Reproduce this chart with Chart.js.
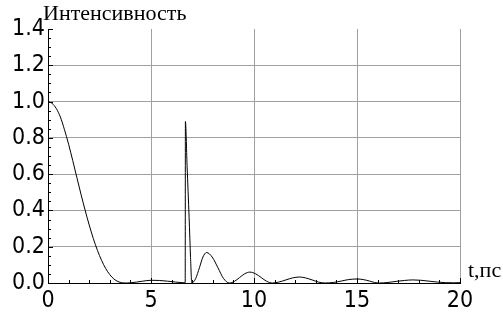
<!DOCTYPE html>
<html>
<head>
<meta charset="utf-8">
<script src="https://cdn.jsdelivr.net/npm/chart.js@4/dist/chart.umd.min.js"></script>
<style>
  html, body { margin: 0; padding: 0; background: #fff; }
  #wrap { width: 503px; height: 320px; }
</style>
</head>
<body>
<div id="wrap"><canvas id="c" width="503" height="320"></canvas></div>
<script>
// Time axis, picoseconds
const timePs = [
  0, 0.2, 0.4, 0.6, 0.8, 1.0, 1.2, 1.4, 1.6, 1.8, 2.0, 2.2, 2.4, 2.6, 2.8, 3.0, 3.2, 3.4, 3.6, 3.8,
  4.0, 4.3, 4.6, 5.0, 5.4, 5.8, 6.2, 6.5, 6.66,
  6.67, 6.75, 6.85, 6.92, 6.98,
  7.17, 7.35, 7.52, 7.7, 7.97, 8.25, 8.52, 8.8,
  9.05, 9.3, 9.55, 9.8, 10.07, 10.35, 10.62, 10.9,
  11.2, 11.55, 11.87, 12.2, 12.5, 12.82, 13.13, 13.45,
  13.85, 14.25, 14.6, 15.0, 15.3, 15.6, 15.85, 16.1,
  16.5, 16.9, 17.3, 17.7, 18.1, 18.5, 18.9, 19.3, 19.7, 20
];
// Intensity at each time
const intensity = [
  1.000, 0.990, 0.962, 0.915, 0.845, 0.765, 0.675, 0.582, 0.490, 0.402, 0.320, 0.245, 0.180, 0.125, 0.080, 0.046, 0.022, 0.008, 0.001, 0.000,
  0.001, 0.005, 0.010, 0.015, 0.014, 0.010, 0.005, 0.002, 0.001,
  0.890, 0.650, 0.360, 0.140, 0.000,
  0.025, 0.084, 0.143, 0.168, 0.143, 0.084, 0.025, 0.000,
  0.009, 0.030, 0.051, 0.060, 0.051, 0.030, 0.009, 0.000,
  0.005, 0.017, 0.028, 0.033, 0.028, 0.017, 0.005, 0.000,
  0.003, 0.011, 0.019, 0.022, 0.019, 0.011, 0.003, 0.000,
  0.003, 0.009, 0.014, 0.017, 0.015, 0.010, 0.005, 0.002, 0.001, 0.002
];
const xTicks = [0, 5, 10, 15, 20];
const yTicks = [0, 0.2, 0.4, 0.6, 0.8, 1.0, 1.2, 1.4];
const xMinorStep = 1;
const yMinorStep = 0.05;
const yTitle = 'Интенсивность';
const xTitle = 't,пс';

const tickFont = { family: "'DejaVu Sans Condensed', 'DejaVu Sans', sans-serif", size: 23 };
const gridColor = '#a0a0a0';

const points = timePs.map((t, i) => ({ x: t, y: intensity[i] }));

// Inward tick marks plus axis captions
const axisDecor = {
  id: 'axisDecor',
  afterDraw(chart) {
    const ctx = chart.ctx;
    const xs = chart.scales.x, ys = chart.scales.y;
    const bottom = ys.getPixelForValue(0);
    const left = xs.getPixelForValue(0);
    ctx.save();
    ctx.strokeStyle = '#000';
    ctx.lineWidth = 1;
    ctx.beginPath();
    for (let v = xs.min; v <= xs.max + 1e-9; v += xMinorStep) {
      const major = xTicks.some(t => Math.abs(t - v) < 1e-6);
      const px = Math.round(xs.getPixelForValue(v)) + 0.5;
      ctx.moveTo(px, bottom);
      ctx.lineTo(px, bottom - (major ? 5 : 3));
    }
    for (let k = 0; k * yMinorStep <= ys.max + 1e-9; k++) {
      const v = k * yMinorStep;
      const major = yTicks.some(t => Math.abs(t - v) < 1e-6);
      const py = Math.round(ys.getPixelForValue(v)) + 0.5;
      ctx.moveTo(left, py);
      ctx.lineTo(left + (major ? 5 : 3), py);
    }
    ctx.stroke();

    ctx.fillStyle = '#000';
    ctx.font = "normal 400 22px 'Liberation Serif', 'Times New Roman', serif";
    ctx.textBaseline = 'alphabetic';
    ctx.textAlign = 'left';
    ctx.fillText(yTitle, left - 5, 20);
    ctx.fillText(xTitle, xs.right + 8, bottom - 6);
    ctx.restore();
  }
};

new Chart(document.getElementById('c'), {
  type: 'line',
  data: {
    datasets: [{
      data: points,
      borderColor: '#000',
      borderWidth: 1,
      pointRadius: 0,
      fill: false,
      cubicInterpolationMode: 'monotone'
    }]
  },
  options: {
    responsive: false,
    animation: false,
    devicePixelRatio: 1,
    layout: { padding: { top: 29, right: 43, left: 0, bottom: 0 } },
    plugins: { legend: { display: false }, tooltip: { enabled: false } },
    scales: {
      x: {
        type: 'linear',
        min: 0, max: 20,
        afterBuildTicks: s => { s.ticks = xTicks.map(v => ({ value: v })); },
        afterFit: s => { s.height = 37; },
        ticks: { font: tickFont, color: '#000', padding: 4, maxRotation: 0, callback: v => String(v) },
        grid: { color: gridColor, lineWidth: 1, drawTicks: false },
        border: { color: '#000', width: 1 }
      },
      y: {
        min: 0, max: 1.4,
        afterBuildTicks: s => { s.ticks = yTicks.map(v => ({ value: v })); },
        afterFit: s => { s.width = 48; },
        ticks: { font: tickFont, color: '#000', padding: 3, callback: v => Number(v).toFixed(1) },
        grid: {
          color: c => (c.tick && c.tick.value > 1.39) ? 'rgba(0,0,0,0)' : gridColor,
          lineWidth: 1, drawTicks: false
        },
        border: { color: '#000', width: 1 }
      }
    }
  },
  plugins: [axisDecor]
});
</script>
</body>
</html>
